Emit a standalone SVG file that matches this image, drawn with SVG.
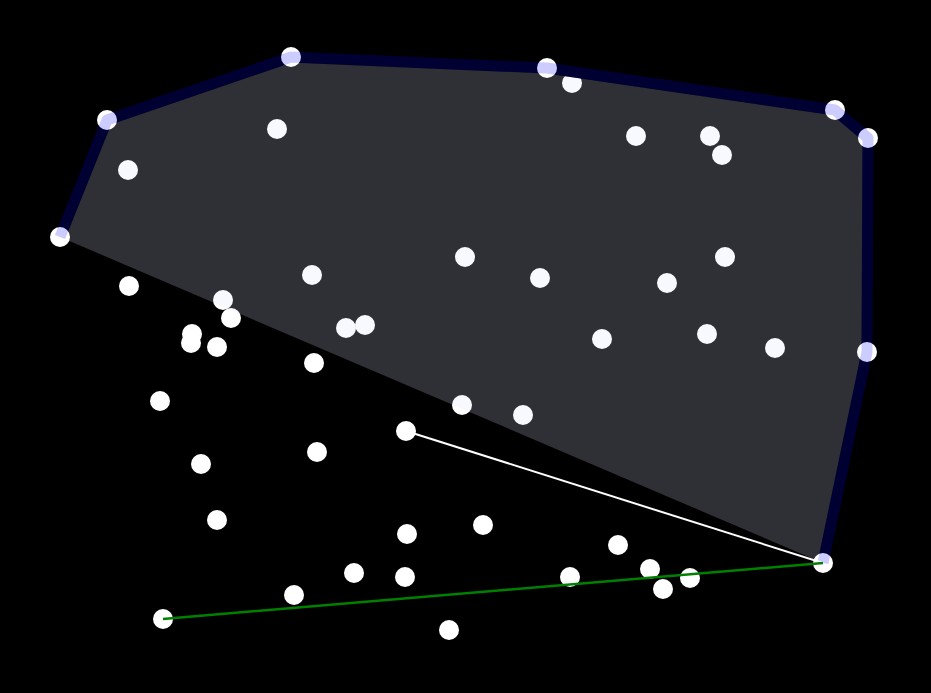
<svg xmlns="http://www.w3.org/2000/svg" width="931" height="693" viewBox="0 0 931 693">
<style>
.pt{fill:#ffffff}
.hull-fill{fill:rgb(224,224,255);fill-opacity:0.21;stroke:none}
.hull-base{fill:none;stroke:#000000;stroke-width:11;stroke-linejoin:round}
.hull-edge{fill:none;stroke:rgb(0,0,255);stroke-opacity:0.2;stroke-width:11;stroke-linejoin:round}
.scan{stroke:#ffffff;stroke-width:2;fill:none}
.cand{stroke:#008000;stroke-width:2.5;fill:none}
</style>
<rect width="931" height="693" fill="#000000"/>
<g id="points">
<g id="p9"><circle class="pt" cx="572" cy="83" r="10"/></g>
<g id="p10"><circle class="pt" cx="277" cy="129" r="10"/></g>
<g id="p11"><circle class="pt" cx="636" cy="136" r="10"/></g>
<g id="p12"><circle class="pt" cx="710" cy="136" r="10"/></g>
<g id="p13"><circle class="pt" cx="722" cy="155" r="10"/></g>
<g id="p14"><circle class="pt" cx="128" cy="170" r="10"/></g>
<g id="p15"><circle class="pt" cx="465" cy="257" r="10"/></g>
<g id="p16"><circle class="pt" cx="725" cy="257" r="10"/></g>
<g id="p17"><circle class="pt" cx="312" cy="275" r="10"/></g>
<g id="p18"><circle class="pt" cx="540" cy="278" r="10"/></g>
<g id="p19"><circle class="pt" cx="667" cy="283" r="10"/></g>
<g id="p20"><circle class="pt" cx="129" cy="286" r="10"/></g>
<g id="p21"><circle class="pt" cx="223" cy="300" r="10"/></g>
<g id="p22"><circle class="pt" cx="231" cy="318" r="10"/></g>
<g id="p23"><circle class="pt" cx="192" cy="334" r="10"/></g>
<g id="p24"><circle class="pt" cx="191" cy="343" r="10"/></g>
<g id="p25"><circle class="pt" cx="217" cy="347" r="10"/></g>
<g id="p26"><circle class="pt" cx="346" cy="328" r="10"/></g>
<g id="p27"><circle class="pt" cx="365" cy="325" r="10"/></g>
<g id="p28"><circle class="pt" cx="602" cy="339" r="10"/></g>
<g id="p29"><circle class="pt" cx="707" cy="334" r="10"/></g>
<g id="p30"><circle class="pt" cx="775" cy="348" r="10"/></g>
<g id="p31"><circle class="pt" cx="314" cy="363" r="10"/></g>
<g id="p32"><circle class="pt" cx="160" cy="401" r="10"/></g>
<g id="p33"><circle class="pt" cx="462" cy="405" r="10"/></g>
<g id="p34"><circle class="pt" cx="523" cy="415" r="10"/></g>
<g id="p35"><circle class="pt" cx="406" cy="431" r="10"/></g>
<g id="p36"><circle class="pt" cx="201" cy="464" r="10"/></g>
<g id="p37"><circle class="pt" cx="317" cy="452" r="10"/></g>
<g id="p38"><circle class="pt" cx="217" cy="520" r="10"/></g>
<g id="p39"><circle class="pt" cx="407" cy="534" r="10"/></g>
<g id="p40"><circle class="pt" cx="483" cy="525" r="10"/></g>
<g id="p41"><circle class="pt" cx="618" cy="545" r="10"/></g>
<g id="p42"><circle class="pt" cx="650" cy="569" r="10"/></g>
<g id="p43"><circle class="pt" cx="663" cy="589" r="10"/></g>
<g id="p44"><circle class="pt" cx="690" cy="578" r="10"/></g>
<g id="p45"><circle class="pt" cx="570" cy="577" r="10"/></g>
<g id="p46"><circle class="pt" cx="354" cy="573" r="10"/></g>
<g id="p47"><circle class="pt" cx="405" cy="577" r="10"/></g>
<g id="p48"><circle class="pt" cx="294" cy="595" r="10"/></g>
<g id="p49"><circle class="pt" cx="163" cy="619" r="10"/></g>
<g id="p50"><circle class="pt" cx="449" cy="630" r="10"/></g>
</g>
<g id="hull">
<polygon class="hull-fill" points="60,237 107,120 291,57 547,68 835,110 868,138 867,352 823,563"/>
<polyline class="hull-base" points="60,237 107,120 291,57 547,68 835,110 868,138 867,352 823,563"/>
</g>
<g id="hull-points">
<g id="p1"><circle class="pt" cx="60" cy="237" r="10"/></g>
<g id="p2"><circle class="pt" cx="107" cy="120" r="10"/></g>
<g id="p3"><circle class="pt" cx="291" cy="57" r="10"/></g>
<g id="p4"><circle class="pt" cx="547" cy="68" r="10"/></g>
<g id="p5"><circle class="pt" cx="835" cy="110" r="10"/></g>
<g id="p6"><circle class="pt" cx="868" cy="138" r="10"/></g>
<g id="p7"><circle class="pt" cx="867" cy="352" r="10"/></g>
<g id="p8"><circle class="pt" cx="823" cy="563" r="10"/></g>
</g>
<g id="hull-edges">
<polyline class="hull-edge" points="60,237 107,120 291,57 547,68 835,110 868,138 867,352 823,563"/>
</g>
<g id="connectors">
<line class="scan" x1="406" y1="431" x2="823" y2="563"/>
<line class="cand" x1="163" y1="619" x2="823" y2="563"/>
</g>
</svg>
